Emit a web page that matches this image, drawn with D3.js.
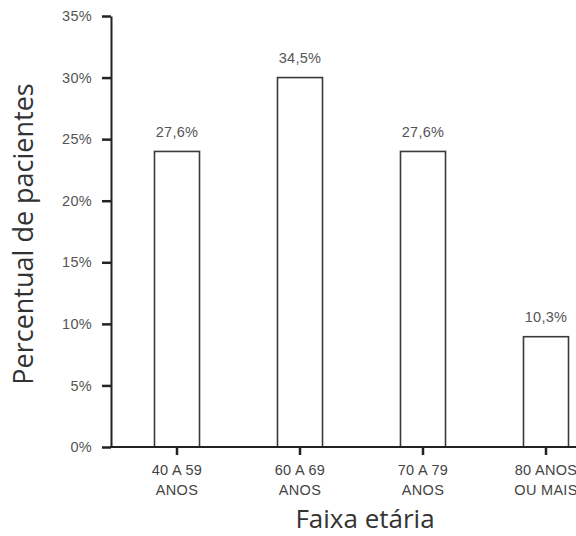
<!DOCTYPE html>
<html>
<head>
<meta charset="utf-8">
<script src="https://cdn.jsdelivr.net/npm/d3@7"></script>
<style>
  html, body { margin: 0; padding: 0; background: #fff; }
  svg { display: block; }
</style>
</head>
<body>
<svg id="chart" width="576" height="536"></svg>
<script>
// Age groups (two-line labels) and share of patients in each group
const categories = [
  ["40 A 59", "ANOS"],
  ["60 A 69", "ANOS"],
  ["70 A 79", "ANOS"],
  ["80 ANOS", "OU MAIS"]
];
const values = [27.6, 34.5, 27.6, 10.3];
const valueLabels = ["27,6%", "34,5%", "27,6%", "10,3%"];
const tickLabels = ["0%", "5%", "10%", "15%", "20%", "25%", "30%", "35%"];

// The printed axis graduation runs 1.15x tighter than the data it carries:
// the 34,5% bar reaches the "30%" gridline.
const axisFactor = 34.5 / 30;

const svg = d3.select("#chart");
const margin = { left: 111, top: 16, bottom: 447 };

const y = d3.scaleLinear()
  .domain([0, 35 * axisFactor])
  .range([margin.bottom, margin.top]);

const x = d3.scaleBand()
  .domain(categories.map((d, i) => i))
  .range([115.5, 607.5])
  .paddingInner(0.634)
  .paddingOuter(0.317);

const tickFont = "'Liberation Sans', Arial, sans-serif";
const titleFont = "'Open Sans', Lato, sans-serif";

// Bars
svg.append("g")
  .selectAll("rect")
  .data(values)
  .join("rect")
  .attr("x", (d, i) => x(i))
  .attr("y", d => y(d))
  .attr("width", x.bandwidth())
  .attr("height", d => y(0) - y(d))
  .attr("fill", "#fff")
  .attr("stroke", "#3a3a3a")
  .attr("stroke-width", 1.6);

// Value labels above bars
svg.append("g")
  .selectAll("text")
  .data(values)
  .join("text")
  .attr("x", (d, i) => x(i) + x.bandwidth() / 2)
  .attr("y", d => y(d) - 14.5)
  .attr("text-anchor", "middle")
  .attr("font-family", tickFont)
  .attr("font-size", 14.5)
  .attr("letter-spacing", 0.3)
  .attr("fill", "#555")
  .text((d, i) => valueLabels[i]);

// Y axis
const yAxis = d3.axisLeft(y)
  .tickValues(tickLabels.map((t, i) => i * 5 * axisFactor))
  .tickFormat((d, i) => tickLabels[i])
  .tickSize(9)
  .tickSizeOuter(0)
  .tickPadding(10);

const gy = svg.append("g")
  .attr("transform", `translate(${margin.left},0)`)
  .call(yAxis);
gy.select(".domain").attr("stroke", "#222").attr("stroke-width", 2);
gy.selectAll(".tick line").attr("stroke", "#222").attr("stroke-width", 2.5);
gy.selectAll(".tick text")
  .attr("font-family", tickFont)
  .attr("font-size", 14.5)
  .attr("letter-spacing", 0.3)
  .attr("fill", "#555");

// X axis baseline, running to the right edge
svg.append("line")
  .attr("x1", margin.left - 1)
  .attr("x2", 576)
  .attr("y1", y(0))
  .attr("y2", y(0))
  .attr("stroke", "#222")
  .attr("stroke-width", 2);

// Category ticks and two-line labels
const gx = svg.append("g");
categories.forEach((lines, i) => {
  const cx = x(i) + x.bandwidth() / 2;
  gx.append("line")
    .attr("x1", cx).attr("x2", cx)
    .attr("y1", y(0)).attr("y2", y(0) + 8)
    .attr("stroke", "#222")
    .attr("stroke-width", 2.5);
  const t = gx.append("text")
    .attr("x", cx)
    .attr("y", 475)
    .attr("text-anchor", "middle")
    .attr("font-family", tickFont)
    .attr("font-size", 14.5)
    .attr("letter-spacing", 0.3)
    .attr("fill", "#444");
  lines.forEach((line, j) => {
    t.append("tspan")
      .attr("x", cx)
      .attr("dy", j === 0 ? 0 : 20)
      .text(line);
  });
});

// Axis titles
svg.append("text")
  .attr("transform", "translate(33,234) rotate(-90)")
  .attr("text-anchor", "middle")
  .attr("font-family", titleFont)
  .attr("font-size", 27)
  .attr("fill", "#333")
  .text("Percentual de pacientes");

svg.append("text")
  .attr("x", 365)
  .attr("y", 528)
  .attr("text-anchor", "middle")
  .attr("font-family", titleFont)
  .attr("font-size", 26)
  .attr("fill", "#333")
  .text("Faixa etária");
</script>
</body>
</html>
